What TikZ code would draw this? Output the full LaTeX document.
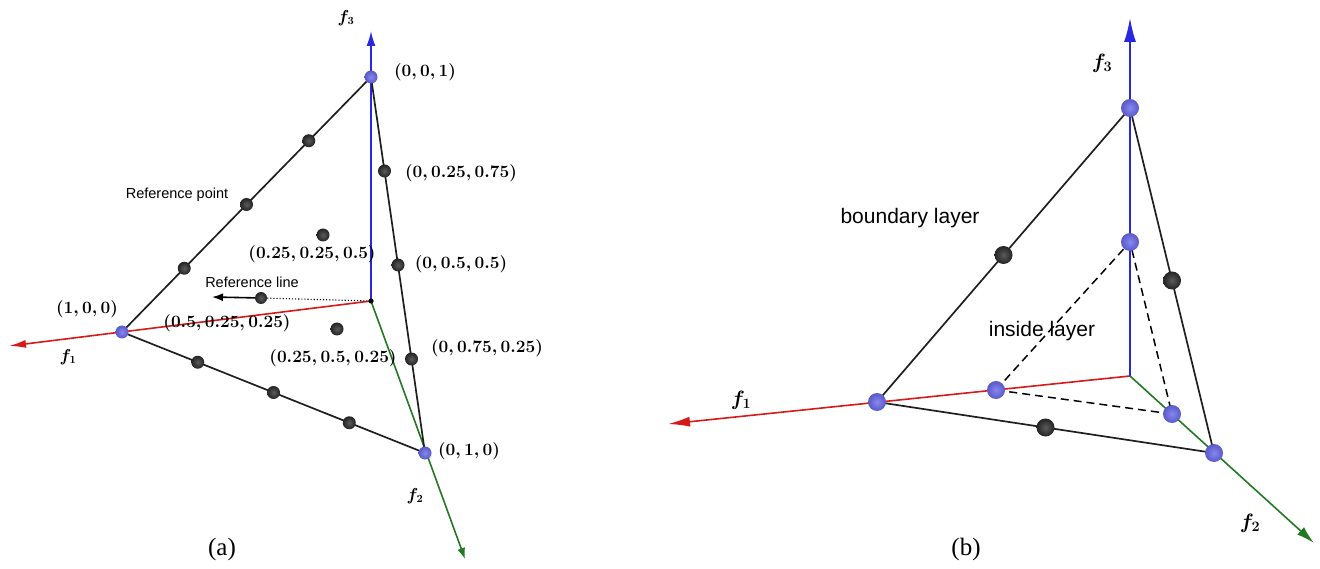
\documentclass[tikz,border=0pt]{standalone}
\usepackage{fontspec}
\newfontfamily\arialf{Liberation Sans}
\newfontfamily\timesf{Liberation Serif}
\usetikzlibrary{arrows.meta,calc}
\definecolor{axred}{RGB}{215,25,25}
\definecolor{axblue}{RGB}{40,40,225}
\definecolor{axgreen}{RGB}{35,120,35}
\definecolor{vblue}{RGB}{105,105,235}
\definecolor{dgray}{RGB}{50,50,50}
\begin{document}
\begin{tikzpicture}[x=1pt,y=-1pt,
  edge/.style={line width=1.7pt, draw=black!88},
  axline/.style={line width=1.6pt},
  vdot/.style={circle, inner sep=0pt, minimum size=#1, shading=radial,
    inner color=vblue!80!white, outer color=vblue!85!black},
  vdot/.default=13pt,
  bdot/.style={circle, inner sep=0pt, minimum size=#1, shading=radial,
    inner color=dgray!80!white, outer color=dgray!70!black},
  bdot/.default=13pt,
  lab/.style={inner sep=0pt, font=\fontsize{16.5}{18}\selectfont\boldmath},
  flab/.style={inner sep=0pt, font=\fontsize{#1}{#1}\selectfont\boldmath},
  slab/.style={inner sep=0pt, font=\arialf\fontsize{#1}{#1}\selectfont},
  captxt/.style={inner sep=0pt, font=\timesf\fontsize{25}{27}\selectfont}
]
\useasboundingbox (0,0) rectangle (1320,569);

% ---------------- panel (a) ----------------
\coordinate (Oa) at (371,301);
\coordinate (A1) at (122,332);
\coordinate (A2) at (425,453);
\coordinate (A3) at (371,77);
\coordinate (T1a) at (9,346);
\coordinate (T2a) at (465,559);
\coordinate (T3a) at (371,31);
\coordinate (R) at (261,298);
\coordinate (Rtip) at (212,297);
\coordinate (Q1) at (323,235);
\coordinate (Q2) at (337,329);

\draw[axline, axred, -{Latex[length=17pt,width=8pt]}] (Oa) -- (T1a);
\draw[axline, axgreen, -{Latex[length=11pt,width=8pt]}] (Oa) -- (T2a);
\draw[axline, axblue, -{Latex[length=15pt,width=9pt]}] (Oa) -- (T3a);
\draw[edge] (A1) -- (A3) -- (A2) -- cycle;
\draw[dotted, line width=1.1pt] (R) -- (Oa);
\draw[line width=1.6pt, -{Latex[length=11pt,width=8pt]}] (R) -- (Rtip);
\fill (Oa) circle (2.6pt);

\foreach \t/\n in {0.25/l1,0.5/l2,0.75/l3}{
  \node[bdot] (a\n) at ($(A1)!\t!(A3)$) {};
}
\foreach \t/\n in {0.25/r1,0.5/r2,0.75/r3}{
  \node[bdot] (a\n) at ($(A3)!\t!(A2)$) {};
}
\foreach \t/\n in {0.25/b1,0.5/b2,0.75/b3}{
  \node[bdot] (a\n) at ($(A1)!\t!(A2)$) {};
}
\node[bdot] (aQ1) at (Q1) {};
\node[bdot] (aQ2) at (Q2) {};
\node[bdot=12pt] (aR) at (R) {};
\node[vdot] (aV1) at (A1) {};
\node[vdot] (aV2) at (A2) {};
\node[vdot] (aV3) at (A3) {};

\node[lab] (t001) at (425,72) {$(0,0,1)$};
\node[lab] (t0257) at (461,173) {$(0,0.25,0.75)$};
\node[lab] (t055) at (461,264) {$(0,0.5,0.5)$};
\node[lab] (t0752) at (487,348) {$(0,0.75,0.25)$};
\node[lab] (t010) at (469,451) {$(0,1,0)$};
\node[lab] (t100) at (87,309) {$(1,0,0)$};
\node[lab] (tr) at (227,323) {$(0.5,0.25,0.25)$};
\node[lab] (tq2) at (333,358) {$(0.25,0.5,0.25)$};
\node[lab] (tq1) at (312,254) {$(0.25,0.25,0.5)$};
\node[slab=14.5] (trp) at (177,195) {Reference point};
\node[slab=14.5] (trl) at (252,282) {Reference line};
\node[flab=16] (f1a) at (68,357) {$f_1$};
\node[flab=16] (f2a) at (415,496) {$f_2$};
\node[flab=16] (f3a) at (346,18) {$f_3$};
\node[captxt] (capa) at (222,549) {(a)};

% ---------------- panel (b) ----------------
\coordinate (Ob) at (1130,376);
\coordinate (B1) at (877,402);
\coordinate (B2) at (1214,453);
\coordinate (B3) at (1130,108);
\coordinate (T1b) at (668,424);
\coordinate (T2b) at (1314,543);
\coordinate (T3b) at (1130,18);
\coordinate (P1) at (996,390);
\coordinate (P2) at (1172,414);
\coordinate (P3) at (1130,242);

\draw[axline, axred, -{Latex[length=22pt,width=10pt]}] (Ob) -- (T1b);
\draw[axline, axgreen, -{Latex[length=18pt,width=10pt]}] (Ob) -- (T2b);
\draw[edge] (B1) -- (B3) -- (B2) -- cycle;
\draw[axline, axblue, -{Latex[length=24pt,width=12pt]}] (Ob) -- (T3b);
\draw[line width=1.5pt, dash pattern=on 8pt off 5pt] (P1) -- (P3) -- (P2) -- cycle;

\node[bdot=18pt] (bm1) at ($(B1)!0.5!(B3)$) {};
\node[bdot=18pt] (bm2) at ($(B3)!0.5!(B2)$) {};
\node[bdot=18pt] (bm3) at ($(B1)!0.5!(B2)$) {};
\node[vdot=18pt] (bV1) at (B1) {};
\node[vdot=18pt] (bV2) at (B2) {};
\node[vdot=18pt] (bV3) at (B3) {};
\node[vdot=18pt] (bP1) at (P1) {};
\node[vdot=18pt] (bP2) at (P2) {};
\node[vdot=18pt] (bP3) at (P3) {};

\node[slab=21] (tbl) at (910,218) {boundary layer};
\node[slab=21] (til) at (1042,331) {inside layer};
\node[flab=21] (f1b) at (741,400) {$f_1$};
\node[flab=21] (f2b) at (1250,523) {$f_2$};
\node[flab=21] (f3b) at (1102,63) {$f_3$};
\node[captxt] (capb) at (966,549) {(b)};
\end{tikzpicture}
\end{document}
